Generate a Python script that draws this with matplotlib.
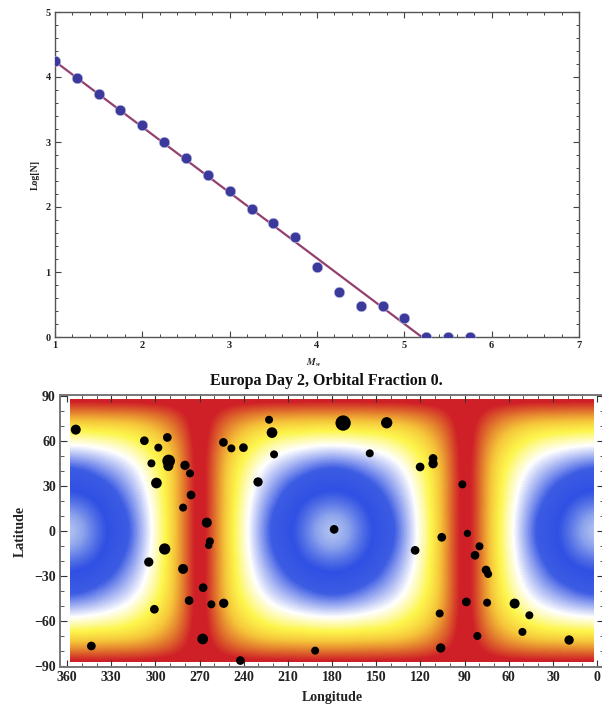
import numpy as np
import matplotlib
matplotlib.use("Agg")
import matplotlib.pyplot as plt
from matplotlib.colors import LinearSegmentedColormap
from matplotlib.patches import Rectangle
from matplotlib.ticker import MultipleLocator

plt.rcParams["font.family"] = ["Liberation Serif", "DejaVu Serif"]

# top panel: magnitude counts
mw = [1, 1.25, 1.5, 1.75, 2, 2.25, 2.5, 2.75, 3, 3.25, 3.5, 3.75, 4, 4.25, 4.5, 4.75, 5, 5.25, 5.5, 5.75]
log_n = [4.24, 3.99, 3.74, 3.49, 3.26, 3.0, 2.75, 2.49, 2.25, 1.97, 1.76, 1.54, 1.08, 0.70, 0.48, 0.48, 0.30, 0, 0, 0]
fit_x = [1, 5.2]
fit_y = [4.24, 0]

# bottom panel: craters, diameter in pixels
lon = [354.1, 343.5, 307.5, 291.9, 298, 302.7, 291, 291.2, 299.3, 279.9, 276.5, 275.8, 281.2, 265.1, 263, 263.8,
       293.7, 304.5, 281.2, 267.6, 277.1, 262, 253.6, 300.7, 267.9, 242.3, 253.8, 248.4, 240.2, 222.8, 220.8,
       219.4, 230.3, 172.5, 142.9, 154.4, 111.4, 111.4, 120.2, 91.5, 178.6, 105.5, 88.1, 79.9, 82.9, 123.6,
       75.4, 74, 88.8, 74.7, 56, 46, 50.7, 19, 81.3, 106.9, 106.2, 191.5]
lat = [67.6, -76.7, 60.2, 62.4, 55.6, 45.1, 46.7, 43.3, 32, 43.8, 38.4, 24, 15.6, 5.6, -6.9, -9.6,
       -12, -20.7, -25.3, -37.8, -46.4, -48.9, -48.2, -52.2, -72, -86.4, 59.1, 55.1, 55.6, 74.2, 65.6,
       51.1, 32.7, 72, 72.2, 51.8, 48.4, 44.9, 42.7, 31.1, 1.1, -4.2, -1.6, -10.2, -16.2, -12.9,
       -26, -28.7, -47.3, -47.8, -48.4, -56.2, -67.3, -72.7, -70, -55, -78, -79.8]
dot_px = [10, 8.7, 8.7, 8.7, 8, 8, 12.7, 10, 10.7, 9.3, 8, 8.7, 8, 10, 8, 7.3,
          11.3, 9.3, 10, 8.7, 8.7, 8, 9.3, 8.7, 10.7, 8.7, 8.7, 8, 8.7, 8, 10.7,
          8, 9.3, 15.3, 11.3, 8, 8.7, 9.3, 8.7, 8, 8.7, 8.7, 7.3, 8, 8.7, 8.7,
          8.7, 8, 8.7, 8, 10, 8, 8, 9.3, 8, 8, 9.3, 8]

# field value by |lat| (rows) and distance in longitude from the blue centre (columns)
field_step = 10
field = [
    [0.00, 0.12, 0.24, 0.32, 0.38, 0.46, 0.54, 0.64, 0.81, 1.00],
    [0.12, 0.17, 0.26, 0.33, 0.39, 0.47, 0.54, 0.64, 0.81, 1.00],
    [0.24, 0.26, 0.30, 0.36, 0.42, 0.48, 0.55, 0.65, 0.81, 1.00],
    [0.32, 0.33, 0.36, 0.40, 0.45, 0.50, 0.56, 0.65, 0.81, 1.00],
    [0.38, 0.39, 0.42, 0.45, 0.48, 0.52, 0.58, 0.66, 0.81, 1.00],
    [0.46, 0.47, 0.48, 0.50, 0.52, 0.56, 0.61, 0.68, 0.82, 1.00],
    [0.54, 0.54, 0.55, 0.56, 0.58, 0.61, 0.65, 0.72, 0.84, 1.00],
    [0.64, 0.64, 0.65, 0.65, 0.66, 0.68, 0.72, 0.78, 0.87, 1.00],
    [0.80, 0.80, 0.80, 0.81, 0.81, 0.82, 0.84, 0.87, 0.93, 1.00],
    [1.00, 1.00, 1.00, 1.00, 1.00, 1.00, 1.00, 1.00, 1.00, 1.00],
]

W, H = 602, 706
fig = plt.figure(figsize=(W / 100, H / 100), dpi=100, facecolor="white")


def box(left, top, right, bottom):
    return [left / W, 1 - bottom / H, (right - left) / W, (bottom - top) / H]


# Top panel
ax = fig.add_axes(box(55, 12, 579, 337))
ax.plot(fit_x, fit_y, color="#93406f", linewidth=1.6, zorder=2)
ax.scatter(mw, log_n, s=58, color="#3b3a9c", edgecolors="#c9c9e8", linewidths=0.4, zorder=3)
ax.set_xlim(1, 7)
ax.set_ylim(0, 5)
ax.xaxis.set_minor_locator(MultipleLocator(0.2))
ax.yaxis.set_minor_locator(MultipleLocator(0.2))
ax.tick_params(which="major", direction="in", top=True, right=True, length=4, width=0.8,
               color="#444444", labelsize=7.5, labelcolor="#222222", pad=3)
ax.tick_params(which="minor", direction="in", top=True, right=True, length=2, width=0.7, color="#444444")
for lab in ax.get_xticklabels() + ax.get_yticklabels():
    lab.set_fontweight("bold")
for s in ax.spines.values():
    s.set_color("#555555")
    s.set_linewidth(1.0)
fig.text(35 / W, 1 - 175 / H, "Log[N]", rotation=90, ha="center", va="center",
         fontsize=7, fontweight="bold", color="#222222")
fig.text(314 / W, 1 - 363 / H, r"$\mathbfit{M}_{\mathbfit{w}}$", ha="center", va="center",
         fontsize=7, color="#222222", math_fontfamily="stix")

# Bottom panel
ax2 = fig.add_axes(box(60, 395, 604, 667))

# mirror the quarter table out to the whole globe
quarter = np.array(field)
full_lat = np.vstack([quarter[:0:-1], quarter])
period = np.hstack([full_lat, full_lat[:, -2:0:-1]])
grid = np.hstack([period, period, period[:, :1]])

cmap = LinearSegmentedColormap.from_list("tidal", [
    (0.00, "#ccd8f4"), (0.15, "#8ba2ec"), (0.30, "#2f50e3"), (0.40, "#3d5ce4"), (0.52, "#ffffff"),
    (0.61, "#fdf64c"), (0.70, "#f6c53a"), (0.80, "#e27a2d"), (0.92, "#cf2027"), (1.00, "#cf2027"),
])
n_lat, n_lon = grid.shape
im = ax2.imshow(grid, cmap=cmap, vmin=0, vmax=1, origin="lower", interpolation="bicubic", aspect="auto",
                extent=(-field_step / 2, (n_lon - 1) * field_step + field_step / 2,
                        -90 - field_step / 2, 90 + field_step / 2), zorder=1)
im.set_clip_path(Rectangle((2.7, -87.3), 355.3, 175.3, transform=ax2.transData))

ax2.scatter(lon, lat, s=(np.array(dot_px) * 0.72) ** 2, color="black", linewidths=0, zorder=3)
ax2.set_xlim(364.8, -4.7)
ax2.set_ylim(-90.7, 90.7)
ax2.set_xticks(range(0, 361, 30))
ax2.set_yticks(range(-90, 91, 30))
ax2.set_yticklabels([f"{v}".replace("-", "\u2212") for v in range(-90, 91, 30)])
ax2.xaxis.set_minor_locator(MultipleLocator(10))
ax2.yaxis.set_minor_locator(MultipleLocator(10))
ax2.tick_params(which="major", direction="in", top=True, right=True, length=5, width=0.8,
                color="#333333", labelsize=10, labelcolor="#222222", pad=3)
ax2.tick_params(which="minor", direction="in", top=True, right=True, length=3, width=0.7, color="#555555")
for lab in ax2.get_xticklabels() + ax2.get_yticklabels():
    lab.set_fontweight("bold")
for s in ax2.spines.values():
    s.set_color("#777777")
    s.set_linewidth(1.4)

fig.text(326 / W, 1 - 381 / H, "Europa Day 2, Orbital Fraction 0.", ha="center", va="center",
         fontsize=11.5, fontweight="bold", color="#111111")
fig.text(332 / W, 1 - 697 / H, "Longitude", ha="center", va="center",
         fontsize=10, fontweight="bold", color="#222222")
fig.text(20 / W, 1 - 531 / H, "Latitude", rotation=90, ha="center", va="center",
         fontsize=10, fontweight="bold", color="#222222")

fig.savefig("out.png", dpi=100, facecolor="white")
